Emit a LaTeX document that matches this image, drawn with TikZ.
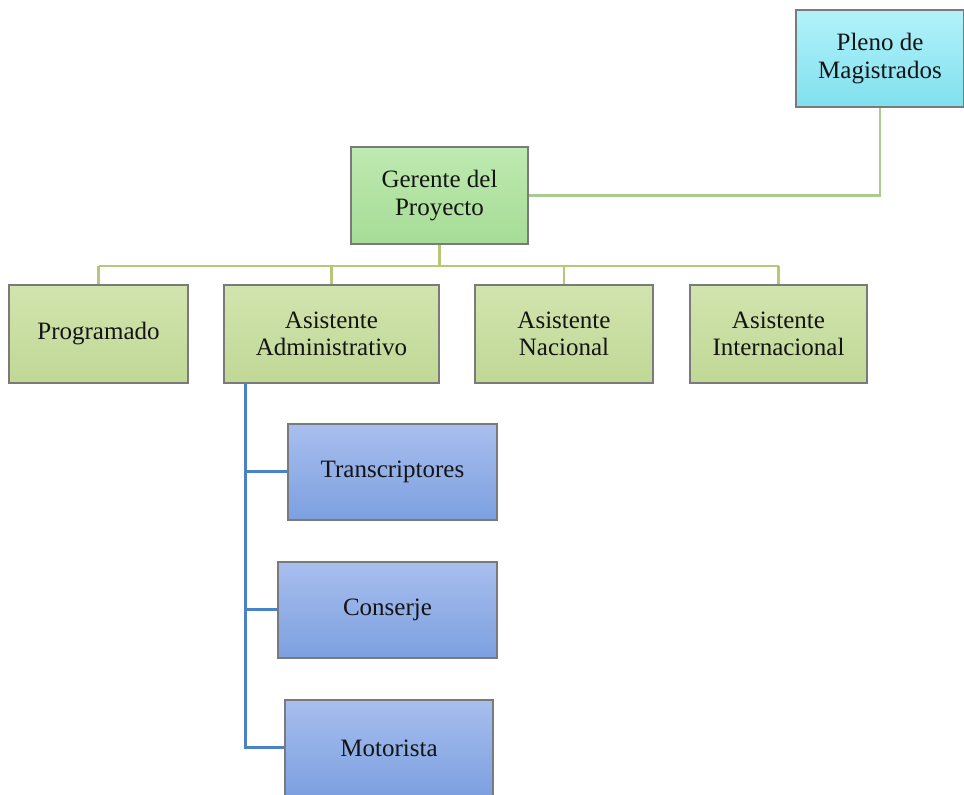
\documentclass[tikz,border=0pt]{standalone}
\usepackage{fontspec}
\setmainfont{Liberation Serif}
\definecolor{cyanT}{HTML}{B2F2FA}
\definecolor{cyanB}{HTML}{80E0EE}
\definecolor{gerT}{HTML}{BEEAB0}
\definecolor{gerB}{HTML}{A6DC96}
\definecolor{grT}{HTML}{D2E4AE}
\definecolor{grB}{HTML}{C0D896}
\definecolor{blT}{HTML}{A8BEEE}
\definecolor{blB}{HTML}{7CA0E0}
\definecolor{glink}{HTML}{B4C878}
\definecolor{plink}{HTML}{A8CC90}
\definecolor{blink}{HTML}{4A82C8}
\definecolor{edge}{HTML}{7A7A7A}
\definecolor{txt}{HTML}{141414}
\tikzset{
  box/.style={draw=edge, line width=0.6pt, rectangle, inner sep=0pt, align=center,
    text=txt, font=\fontsize{12.5}{13.8}\selectfont},
  cyanbox/.style={box, top color=cyanT, bottom color=cyanB},
  gerbox/.style={box, top color=gerT, bottom color=gerB},
  greenbox/.style={box, top color=grT, bottom color=grB, minimum height=49pt},
  bluebox/.style={box, top color=blT, bottom color=blB, minimum height=48pt},
  glinkst/.style={draw=glink, line width=1.3pt},
  plinkst/.style={draw=plink, line width=1.2pt},
  blinkst/.style={draw=blink, line width=1.5pt},
}
\begin{document}
\begin{tikzpicture}[x=0.5pt,y=-0.5pt]
\useasboundingbox (0,0) rectangle (964,795);
\fill[white] (0,0) rectangle (964,795);
% nodes
\node[cyanbox, minimum width=84pt, minimum height=48.5pt] (pleno) at (880,58.5) {Pleno de\\Magistrados};
\node[gerbox, minimum width=88.5pt, minimum height=48.5pt] (ger) at (439.5,195.5) {Gerente del\\Proyecto};
\node[greenbox, minimum width=89.5pt] (prog) at (98.5,334) {Programado};
\node[greenbox, minimum width=107.5pt] (admin) at (331.5,334) {Asistente\\Administrativo};
\node[greenbox, minimum width=89pt] (nac) at (564,334) {Asistente\\Nacional};
\node[greenbox, minimum width=88.5pt] (int) at (778.5,334) {Asistente\\Internacional};
\node[bluebox, minimum width=104.5pt] (trans) at (392.5,472) {Transcriptores};
\node[bluebox, minimum width=109.5pt] (cons) at (387.5,610) {Conserje};
\node[bluebox, minimum width=104pt] (moto) at (389,748) {Motorista};
% connectors
\coordinate (bus) at (0,266);
\coordinate (spine) at (245,383);
\draw[plinkst] (pleno.south) |- (ger.east);
\draw[glinkst] (ger.south) -- (ger.south |- bus);
\draw[glinkst] (prog.north |- bus) -- (int.north |- bus);
\foreach \n in {prog,admin,nac,int}{
  \draw[glinkst] (\n.north |- bus) -- (\n.north);
}
\draw[blinkst] (spine) |- (trans.west);
\draw[blinkst] (spine) |- (cons.west);
\draw[blinkst] (spine) |- (moto.west);
\end{tikzpicture}
\end{document}
